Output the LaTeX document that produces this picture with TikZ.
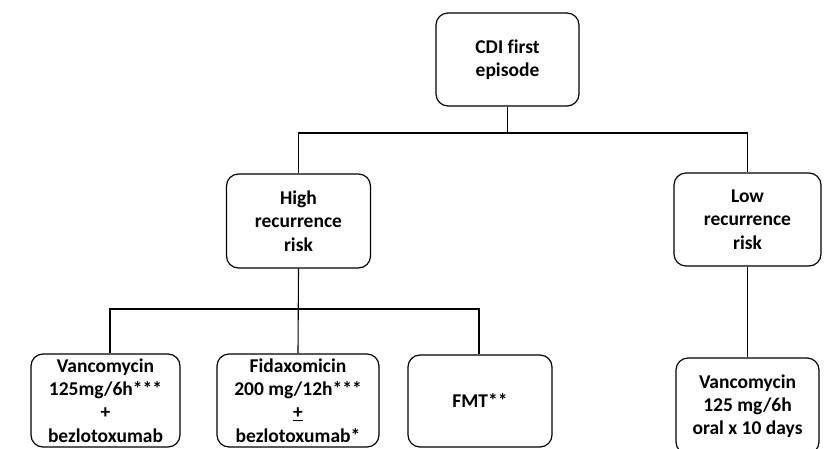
\documentclass[tikz,border=0pt]{standalone}
\usepackage{fontspec}
\setmainfont{Carlito}[Ligatures=NoCommon]
\begin{document}
\begin{tikzpicture}[x=1pt,y=-1pt,
  box/.style={draw=black, line width=1.2pt, rounded corners=12pt, align=center,
    font=\fontsize{19.5}{23.3}\selectfont\bfseries, text=black, inner sep=0pt},
  conn/.style={draw=black, line width=1.1pt}]
\useasboundingbox (0,0) rectangle (825,448);
\clip (0,0) rectangle (825,448);
\node[box, minimum width=143pt, minimum height=93pt] (cdi) at (507.5,59.5) {CDI first\\episode};
\node[box, minimum width=144pt, minimum height=94pt] (high) at (298.5,221) {High\\recurrence\\risk};
\node[box, minimum width=147pt, minimum height=93pt] (low) at (747.5,219.5) {Low\\recurrence\\risk};
\node[box, minimum width=149pt, minimum height=93pt] (v1) at (105.5,400.5) {Vancomycin\\125mg/6h***\\+\\bezlotoxumab};
\node[box, minimum width=162pt, minimum height=93pt] (fida) at (298,400.5) {Fidaxomicin\\200 mg/12h***\\\underline{+}\\bezlotoxumab*};
\node[box, minimum width=144pt, minimum height=92pt] (fmt) at (480,401) {FMT**};
\node[box, minimum width=143pt, minimum height=96pt] (v2) at (747.5,406) {Vancomycin\\125 mg/6h\\oral x 10 days};
\coordinate (j1) at (507.5,133);
\coordinate (j2) at (298.5,309);
\draw[conn] (cdi.south) -- (j1);
\draw[conn] (j1) -| (high.north);
\draw[conn] (j1) -| (low.north);
\draw[conn] (high.south) -- (fida.north);
\draw[conn] (j2) -| ([xshift=4.5pt]v1.north);
\draw[conn] (j2) -| ([xshift=-1pt]fmt.north);
\draw[conn] (low.south) -- (v2.north);
\end{tikzpicture}
\end{document}
